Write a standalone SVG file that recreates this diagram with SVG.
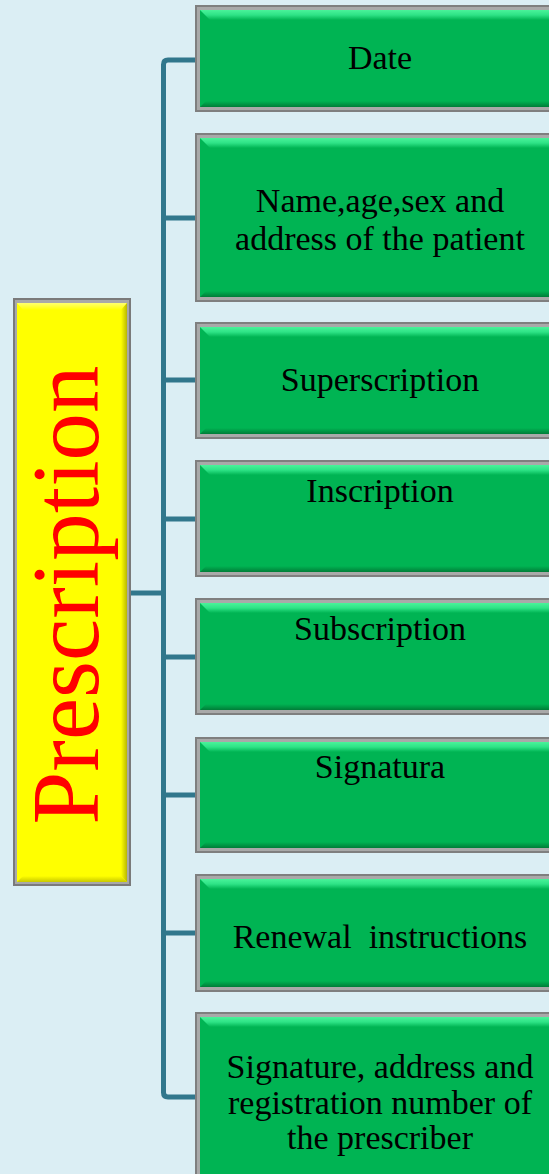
<svg xmlns="http://www.w3.org/2000/svg" width="549" height="1174" viewBox="0 0 549 1174">
<style>
.frame{fill:#7f7f7f}
.frameIn{fill:#a9a9a9}
.green{fill:#00b453}
.hl{fill:url(#hlG)}
.dk{fill:url(#dkG)}
.conn{fill:none;stroke:#31778c;stroke-width:5;stroke-linejoin:round;stroke-linecap:butt}
.lbl{font-family:"Liberation Serif","Times New Roman",serif;font-size:34px;fill:#000;text-anchor:middle}
.title{font-family:"Liberation Serif","Times New Roman",serif;font-size:95px;fill:#ff0000;text-anchor:middle}
</style>
<defs>
<linearGradient id="hlG" x1="0" y1="0" x2="0" y2="1">
<stop offset="0" stop-color="#4af39a"/>
<stop offset="0.5" stop-color="#2ee386"/>
<stop offset="1" stop-color="#00b453"/>
</linearGradient>
<linearGradient id="dkG" x1="0" y1="0" x2="0" y2="1">
<stop offset="0" stop-color="#00b453"/>
<stop offset="1" stop-color="#007d38"/>
</linearGradient>
<linearGradient id="yR" x1="0" y1="0" x2="1" y2="0">
<stop offset="0" stop-color="#ffff00"/>
<stop offset="1" stop-color="#b8b800"/>
</linearGradient>
<linearGradient id="yT" x1="0" y1="0" x2="0" y2="1">
<stop offset="0" stop-color="#ffff70"/>
<stop offset="1" stop-color="#ffff00"/>
</linearGradient>
<linearGradient id="yB" x1="0" y1="0" x2="0" y2="1">
<stop offset="0" stop-color="#ffff00"/>
<stop offset="1" stop-color="#c8c800"/>
</linearGradient>
</defs>
<rect x="0" y="0" width="549" height="1174" fill="#dbeef4"/>

<g id="connectors">
<path class="conn" d="M196,60 H168 Q163.5,60 163.5,64.5 V1092.5 Q163.5,1097 168,1097 H196"/>
<path class="conn" d="M163.5,218 H196 M163.5,380 H196 M163.5,519 H196 M163.5,657 H196 M163.5,795 H196 M163.5,933 H196"/>
<path class="conn" d="M131,593 H163.5"/>
</g>

<g id="prescription">
<rect x="13" y="298" width="118" height="588" fill="#7a7a7a"/>
<rect x="15" y="300" width="114" height="584" fill="#a8a8a8"/>
<rect x="17" y="303" width="110" height="579" fill="#ffff00"/>
<polygon points="17,303 127,303 121,310 23,310" fill="url(#yT)"/>
<polygon points="127,303 127,882 121,876 121,310" fill="url(#yR)"/>
<polygon points="17,882 127,882 121,876 23,876" fill="url(#yB)"/>
<text class="title" transform="translate(98,595) rotate(-90)">Prescription</text>
</g>

<g id="n1">
<rect class="frame" x="195" y="5" width="380" height="107"/>
<rect class="frameIn" x="197" y="7" width="376" height="103"/>
<rect class="green" x="200" y="10" width="370" height="97"/>
<polygon class="hl" points="200,10 570,10 570,20 210,20"/>
<polygon class="dk" points="206,101 570,101 570,107 200,107"/>
<text class="lbl" x="380" y="69">Date</text>
</g>

<g id="n2">
<rect class="frame" x="195" y="133" width="380" height="169"/>
<rect class="frameIn" x="197" y="135" width="376" height="165"/>
<rect class="green" x="200" y="138" width="370" height="159"/>
<polygon class="hl" points="200,138 570,138 570,148 210,148"/>
<polygon class="dk" points="206,291 570,291 570,297 200,297"/>
<text class="lbl" x="380" y="212">Name,age,sex and</text>
<text class="lbl" x="380" y="250">address of the patient</text>
</g>

<g id="n3">
<rect class="frame" x="195" y="322" width="380" height="117"/>
<rect class="frameIn" x="197" y="324" width="376" height="113"/>
<rect class="green" x="200" y="327" width="370" height="107"/>
<polygon class="hl" points="200,327 570,327 570,337 210,337"/>
<polygon class="dk" points="206,428 570,428 570,434 200,434"/>
<text class="lbl" x="380" y="391">Superscription</text>
</g>

<g id="n4">
<rect class="frame" x="195" y="460" width="380" height="117"/>
<rect class="frameIn" x="197" y="462" width="376" height="113"/>
<rect class="green" x="200" y="465" width="370" height="107"/>
<polygon class="hl" points="200,465 570,465 570,475 210,475"/>
<polygon class="dk" points="206,566 570,566 570,572 200,572"/>
<text class="lbl" x="380" y="502">Inscription</text>
</g>

<g id="n5">
<rect class="frame" x="195" y="598" width="380" height="117"/>
<rect class="frameIn" x="197" y="600" width="376" height="113"/>
<rect class="green" x="200" y="603" width="370" height="107"/>
<polygon class="hl" points="200,603 570,603 570,613 210,613"/>
<polygon class="dk" points="206,704 570,704 570,710 200,710"/>
<text class="lbl" x="380" y="640">Subscription</text>
</g>

<g id="n6">
<rect class="frame" x="195" y="737" width="380" height="116"/>
<rect class="frameIn" x="197" y="739" width="376" height="112"/>
<rect class="green" x="200" y="742" width="370" height="106"/>
<polygon class="hl" points="200,742 570,742 570,752 210,752"/>
<polygon class="dk" points="206,842 570,842 570,848 200,848"/>
<text class="lbl" x="380" y="778">Signatura</text>
</g>

<g id="n7">
<rect class="frame" x="195" y="874" width="380" height="118"/>
<rect class="frameIn" x="197" y="876" width="376" height="114"/>
<rect class="green" x="200" y="879" width="370" height="108"/>
<polygon class="hl" points="200,879 570,879 570,889 210,889"/>
<polygon class="dk" points="206,981 570,981 570,987 200,987"/>
<text class="lbl" x="380" y="948" xml:space="preserve">Renewal  instructions</text>
</g>

<g id="n8">
<rect class="frame" x="195" y="1012" width="380" height="180"/>
<rect class="frameIn" x="197" y="1014" width="376" height="176"/>
<rect class="green" x="200" y="1017" width="370" height="170"/>
<polygon class="hl" points="200,1017 570,1017 570,1027 210,1027"/>
<text class="lbl" x="380" y="1078">Signature, address and</text>
<text class="lbl" x="380" y="1114">registration number of</text>
<text class="lbl" x="380" y="1149">the prescriber</text>
</g>
</svg>
